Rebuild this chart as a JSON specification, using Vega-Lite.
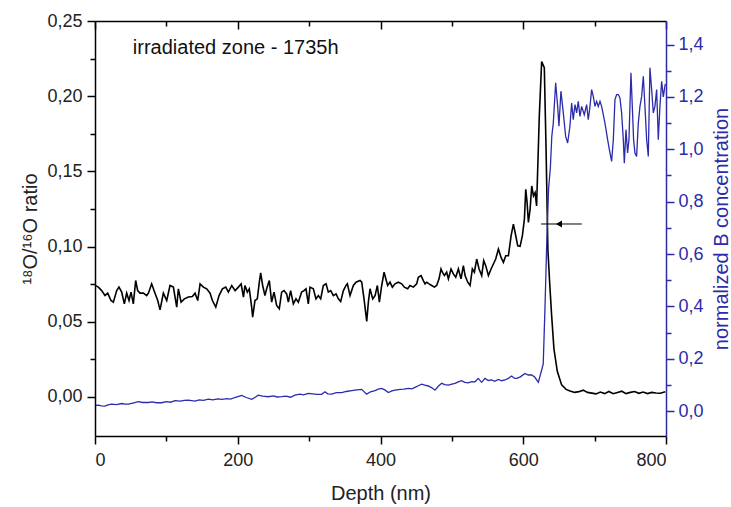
{
  "$schema": "https://vega.github.io/schema/vega-lite/v6.json",
  "width": 571,
  "height": 415,
  "autosize": {"type": "none"},
  "padding": {"left": 95, "top": 21, "right": 65, "bottom": 71},
  "background": "white",
  "config": {
    "view": {"stroke": null},
    "font": "Liberation Sans",
    "axis": {"grid": false, "labelFont": "Liberation Sans", "titleFont": "Liberation Sans", "labelFontSize": 18, "titleFontSize": 20, "titleFontWeight": "normal", "domainWidth": 1.5, "tickWidth": 1.5, "labelColor": "#222", "titleColor": "#222", "domainColor": "#000", "tickColor": "#000"}
  },
  "datasets": {
    "ratio": [
      {"depth": 1, "v": 0.074}, {"depth": 4.7, "v": 0.073}, {"depth": 9.3, "v": 0.0707}, {"depth": 14, "v": 0.0674}, {"depth": 17.8, "v": 0.069}, {"depth": 22.4, "v": 0.0641}, {"depth": 25.7, "v": 0.063}, {"depth": 30.4, "v": 0.0707}, {"depth": 33.6, "v": 0.073}, {"depth": 37.4, "v": 0.0697}, {"depth": 41.1, "v": 0.0619}, {"depth": 44.4, "v": 0.069}, {"depth": 47.7, "v": 0.0641}, {"depth": 50.5, "v": 0.0697}, {"depth": 53.7, "v": 0.0619}, {"depth": 57, "v": 0.0774}, {"depth": 59.8, "v": 0.0707}, {"depth": 63, "v": 0.069}, {"depth": 67.8, "v": 0.069}, {"depth": 72.4, "v": 0.0674}, {"depth": 74.8, "v": 0.069}, {"depth": 79.4, "v": 0.0752}, {"depth": 84.1, "v": 0.069}, {"depth": 87.9, "v": 0.0641}, {"depth": 91.1, "v": 0.0579}, {"depth": 95.8, "v": 0.069}, {"depth": 100.5, "v": 0.0641}, {"depth": 105.1, "v": 0.0741}, {"depth": 109.8, "v": 0.073}, {"depth": 114.5, "v": 0.0597}, {"depth": 116.8, "v": 0.0719}, {"depth": 120.6, "v": 0.063}, {"depth": 125.2, "v": 0.0652}, {"depth": 130.8, "v": 0.0664}, {"depth": 136.4, "v": 0.0668}, {"depth": 140.2, "v": 0.069}, {"depth": 143.9, "v": 0.0641}, {"depth": 147.2, "v": 0.0752}, {"depth": 151.9, "v": 0.073}, {"depth": 156.5, "v": 0.0719}, {"depth": 161.2, "v": 0.069}, {"depth": 164.5, "v": 0.0641}, {"depth": 169.2, "v": 0.0597}, {"depth": 173.8, "v": 0.0674}, {"depth": 178.5, "v": 0.0719}, {"depth": 183.2, "v": 0.073}, {"depth": 186.9, "v": 0.0697}, {"depth": 191.6, "v": 0.0741}, {"depth": 196.3, "v": 0.0707}, {"depth": 200.9, "v": 0.073}, {"depth": 204.7, "v": 0.0752}, {"depth": 208, "v": 0.0664},
      {"depth": 210.1, "v": 0.0741}, {"depth": 213.4, "v": 0.0697}, {"depth": 216.2, "v": 0.0719}, {"depth": 219.5, "v": 0.0597}, {"depth": 220.9, "v": 0.0531}, {"depth": 224.1, "v": 0.0641}, {"depth": 227.4, "v": 0.0652}, {"depth": 230.2, "v": 0.0763}, {"depth": 232.1, "v": 0.0825}, {"depth": 234.9, "v": 0.0741}, {"depth": 238.1, "v": 0.0674}, {"depth": 240.5, "v": 0.0719}, {"depth": 244.2, "v": 0.0774}, {"depth": 247.5, "v": 0.063}, {"depth": 250.8, "v": 0.0697}, {"depth": 254.5, "v": 0.0608}, {"depth": 258.2, "v": 0.0586}, {"depth": 261.5, "v": 0.0697}, {"depth": 264.8, "v": 0.0707}, {"depth": 268.5, "v": 0.0685}, {"depth": 270.9, "v": 0.063}, {"depth": 274.1, "v": 0.0707}, {"depth": 277.9, "v": 0.0619}, {"depth": 281.6, "v": 0.0652}, {"depth": 284.9, "v": 0.063}, {"depth": 289.5, "v": 0.0697}, {"depth": 292.8, "v": 0.0707}, {"depth": 295.6, "v": 0.0719}, {"depth": 298.9, "v": 0.0619}, {"depth": 301.2, "v": 0.073}, {"depth": 305.9, "v": 0.0719}, {"depth": 309.6, "v": 0.0652}, {"depth": 312.9, "v": 0.0674}, {"depth": 316.2, "v": 0.0652}, {"depth": 319.9, "v": 0.0741}, {"depth": 323.7, "v": 0.0752}, {"depth": 326.9, "v": 0.0697}, {"depth": 330.2, "v": 0.0707}, {"depth": 334, "v": 0.0674}, {"depth": 337.7, "v": 0.0685}, {"depth": 341, "v": 0.0652}, {"depth": 344.2, "v": 0.0634}, {"depth": 348, "v": 0.0707}, {"depth": 351.7, "v": 0.0741}, {"depth": 353.6, "v": 0.0752}, {"depth": 357.3, "v": 0.0674}, {"depth": 362, "v": 0.0741}, {"depth": 365.7, "v": 0.0763}, {"depth": 371.3, "v": 0.0774}, {"depth": 373.7, "v": 0.0763}, {"depth": 376.9, "v": 0.0652}, {"depth": 380.7, "v": 0.0502}, {"depth": 383, "v": 0.063}, {"depth": 385.3, "v": 0.0719}, {"depth": 389.1, "v": 0.0652}, {"depth": 392.4, "v": 0.0674}, {"depth": 395.6, "v": 0.0741}, {"depth": 398.4, "v": 0.063}, {"depth": 401.7, "v": 0.0741}, {"depth": 405, "v": 0.0829},
      {"depth": 410, "v": 0.0741}, {"depth": 413.3, "v": 0.0763}, {"depth": 416.6, "v": 0.073}, {"depth": 420.3, "v": 0.0752}, {"depth": 425, "v": 0.0763}, {"depth": 429.7, "v": 0.0752}, {"depth": 433.4, "v": 0.073}, {"depth": 438.1, "v": 0.0719}, {"depth": 441.3, "v": 0.0741}, {"depth": 446, "v": 0.073}, {"depth": 450.7, "v": 0.0752}, {"depth": 453, "v": 0.0796}, {"depth": 456.8, "v": 0.0807}, {"depth": 460, "v": 0.0774}, {"depth": 462.4, "v": 0.0752}, {"depth": 464.7, "v": 0.0763}, {"depth": 468, "v": 0.0752}, {"depth": 471.7, "v": 0.0741}, {"depth": 475.5, "v": 0.073}, {"depth": 478.7, "v": 0.0741}, {"depth": 482, "v": 0.0785}, {"depth": 484.8, "v": 0.0851}, {"depth": 486.7, "v": 0.0829}, {"depth": 489.5, "v": 0.0807}, {"depth": 492.7, "v": 0.0829}, {"depth": 495.1, "v": 0.0785}, {"depth": 498.8, "v": 0.0851}, {"depth": 502.1, "v": 0.0818}, {"depth": 505.4, "v": 0.0796}, {"depth": 509.1, "v": 0.0851}, {"depth": 512.8, "v": 0.0785}, {"depth": 516.1, "v": 0.0873}, {"depth": 518.5, "v": 0.0807}, {"depth": 522.2, "v": 0.0763}, {"depth": 525.5, "v": 0.0741}, {"depth": 528.7, "v": 0.0851}, {"depth": 531.5, "v": 0.0829}, {"depth": 534.8, "v": 0.0917}, {"depth": 538.1, "v": 0.0851}, {"depth": 541.8, "v": 0.0807}, {"depth": 544.6, "v": 0.0906}, {"depth": 547.4, "v": 0.0873}, {"depth": 551.2, "v": 0.0807}, {"depth": 554.9, "v": 0.0851}, {"depth": 558.2, "v": 0.0884}, {"depth": 561.4, "v": 0.0917}, {"depth": 565.2, "v": 0.0983}, {"depth": 568.9, "v": 0.0928}, {"depth": 572.2, "v": 0.0895}, {"depth": 575.5, "v": 0.0939}, {"depth": 579.2, "v": 0.0939}, {"depth": 583, "v": 0.1072}, {"depth": 586.2, "v": 0.1149}, {"depth": 589.5, "v": 0.1072}, {"depth": 592.3, "v": 0.1005}, {"depth": 595.6, "v": 0.1001}, {"depth": 598.8, "v": 0.1072}, {"depth": 601.6, "v": 0.1182}, {"depth": 603.5, "v": 0.1381}, {"depth": 605.4, "v": 0.1293}, {"depth": 607.2, "v": 0.116}, {"depth": 609.6, "v": 0.1248}, {"depth": 611.9, "v": 0.1403}, {"depth": 614.3, "v": 0.1337}, {"depth": 616.6, "v": 0.1359}, {"depth": 618.7, "v": 0.127}, {"depth": 622.5, "v": 0.187}, {"depth": 625.8, "v": 0.223}, {"depth": 629.5, "v": 0.219}, {"depth": 632, "v": 0.164}, {"depth": 634.5, "v": 0.098}, {"depth": 637, "v": 0.076}, {"depth": 639.8, "v": 0.054}, {"depth": 643, "v": 0.032}, {"depth": 647.7, "v": 0.017}, {"depth": 653.8, "v": 0.008}, {"depth": 660, "v": 0.005}, {"depth": 665.5, "v": 0.004}, {"depth": 672, "v": 0.003}, {"depth": 678, "v": 0.0035}, {"depth": 684, "v": 0.0045}, {"depth": 690, "v": 0.003}, {"depth": 696, "v": 0.0025}, {"depth": 702, "v": 0.002}, {"depth": 708, "v": 0.0032}, {"depth": 714, "v": 0.0022}, {"depth": 720, "v": 0.0036}, {"depth": 726, "v": 0.0021}, {"depth": 732, "v": 0.003}, {"depth": 738, "v": 0.0038}, {"depth": 744, "v": 0.0022}, {"depth": 750, "v": 0.003}, {"depth": 756, "v": 0.0036}, {"depth": 762, "v": 0.0024}, {"depth": 768, "v": 0.0032}, {"depth": 774, "v": 0.0022}, {"depth": 780, "v": 0.003}, {"depth": 786, "v": 0.0026}, {"depth": 792, "v": 0.0024}, {"depth": 799, "v": 0.0035}
    ],
    "boron": [
      {"depth": 1, "c": 0.022}, {"depth": 4.7, "c": 0.023}, {"depth": 9, "c": 0.02}, {"depth": 14, "c": 0.019}, {"depth": 18, "c": 0.024}, {"depth": 23.3, "c": 0.027}, {"depth": 30, "c": 0.025}, {"depth": 37.4, "c": 0.029}, {"depth": 42, "c": 0.027}, {"depth": 46.7, "c": 0.027}, {"depth": 53, "c": 0.031}, {"depth": 60.7, "c": 0.036}, {"depth": 67, "c": 0.033}, {"depth": 74.7, "c": 0.033}, {"depth": 80, "c": 0.035}, {"depth": 86, "c": 0.032}, {"depth": 93.4, "c": 0.032}, {"depth": 100, "c": 0.036}, {"depth": 106, "c": 0.034}, {"depth": 112, "c": 0.04}, {"depth": 120, "c": 0.038}, {"depth": 125, "c": 0.041}, {"depth": 130.8, "c": 0.042}, {"depth": 140, "c": 0.038}, {"depth": 146, "c": 0.043}, {"depth": 152, "c": 0.041}, {"depth": 158.8, "c": 0.046}, {"depth": 165, "c": 0.043}, {"depth": 172, "c": 0.047}, {"depth": 177.5, "c": 0.045}, {"depth": 185, "c": 0.048}, {"depth": 190, "c": 0.046}, {"depth": 196, "c": 0.052}, {"depth": 205.5, "c": 0.06}, {"depth": 212, "c": 0.052}, {"depth": 219.5, "c": 0.045}, {"depth": 224, "c": 0.052}, {"depth": 228.8, "c": 0.061}, {"depth": 235, "c": 0.057}, {"depth": 242.8, "c": 0.055}, {"depth": 250, "c": 0.058}, {"depth": 255, "c": 0.054}, {"depth": 261.5, "c": 0.055}, {"depth": 268, "c": 0.057}, {"depth": 274, "c": 0.053}, {"depth": 280, "c": 0.061}, {"depth": 287, "c": 0.065}, {"depth": 292, "c": 0.062}, {"depth": 299, "c": 0.068}, {"depth": 305, "c": 0.066}, {"depth": 311, "c": 0.064}, {"depth": 317.6, "c": 0.064}, {"depth": 322.2, "c": 0.074}, {"depth": 326, "c": 0.066}, {"depth": 331.6, "c": 0.065}, {"depth": 338, "c": 0.071}, {"depth": 345.6, "c": 0.071}, {"depth": 352, "c": 0.075}, {"depth": 359.6, "c": 0.078}, {"depth": 367, "c": 0.081}, {"depth": 373.6, "c": 0.083}, {"depth": 380.6, "c": 0.065}, {"depth": 386, "c": 0.074}, {"depth": 392.3, "c": 0.078}, {"depth": 397, "c": 0.084}, {"depth": 401.6, "c": 0.087}, {"depth": 406, "c": 0.081}, {"depth": 411, "c": 0.071}, {"depth": 416, "c": 0.077}, {"depth": 420.3, "c": 0.08}, {"depth": 428, "c": 0.083}, {"depth": 433, "c": 0.084}, {"depth": 439, "c": 0.087}, {"depth": 444, "c": 0.085}, {"depth": 448.3, "c": 0.091}, {"depth": 453, "c": 0.097}, {"depth": 457.7, "c": 0.103}, {"depth": 462, "c": 0.099}, {"depth": 467, "c": 0.096}, {"depth": 472, "c": 0.089}, {"depth": 476.3, "c": 0.08}, {"depth": 481, "c": 0.095}, {"depth": 485.7, "c": 0.106}, {"depth": 490, "c": 0.101}, {"depth": 495, "c": 0.099}, {"depth": 500, "c": 0.103}, {"depth": 504.4, "c": 0.106}, {"depth": 509, "c": 0.112}, {"depth": 513.7, "c": 0.116}, {"depth": 518, "c": 0.11}, {"depth": 523, "c": 0.108}, {"depth": 528, "c": 0.113}, {"depth": 532.4, "c": 0.112}, {"depth": 537, "c": 0.125}, {"depth": 541.7, "c": 0.11}, {"depth": 546.4, "c": 0.125}, {"depth": 551, "c": 0.117}, {"depth": 555.7, "c": 0.119}, {"depth": 560, "c": 0.114}, {"depth": 565, "c": 0.121}, {"depth": 570, "c": 0.116}, {"depth": 574.4, "c": 0.119}, {"depth": 579, "c": 0.125}, {"depth": 583.8, "c": 0.134}, {"depth": 588, "c": 0.125}, {"depth": 590.8, "c": 0.125}, {"depth": 596, "c": 0.131}, {"depth": 602.4, "c": 0.144}, {"depth": 607, "c": 0.138}, {"depth": 611.8, "c": 0.138}, {"depth": 616, "c": 0.13}, {"depth": 621.1, "c": 0.11}, {"depth": 625.8, "c": 0.157}, {"depth": 628, "c": 0.18}, {"depth": 630.5, "c": 0.4}, {"depth": 633, "c": 0.65}, {"depth": 635.5, "c": 0.85}, {"depth": 638, "c": 0.93}, {"depth": 640, "c": 1.05}, {"depth": 642.1, "c": 1.1}, {"depth": 645.4, "c": 1.254}, {"depth": 648.2, "c": 1.164}, {"depth": 650, "c": 1.088}, {"depth": 652.8, "c": 1.222}, {"depth": 656.1, "c": 1.139}, {"depth": 659.4, "c": 1.049}, {"depth": 662.2, "c": 1.024}, {"depth": 665.4, "c": 1.088}, {"depth": 667.8, "c": 1.177}, {"depth": 670.1, "c": 1.113}, {"depth": 672.5, "c": 1.171}, {"depth": 674.8, "c": 1.139}, {"depth": 677.1, "c": 1.183}, {"depth": 679.5, "c": 1.126}, {"depth": 681.8, "c": 1.164}, {"depth": 685.5, "c": 1.132}, {"depth": 688.8, "c": 1.171}, {"depth": 691.1, "c": 1.113}, {"depth": 693.5, "c": 1.164}, {"depth": 695.8, "c": 1.228}, {"depth": 698.1, "c": 1.202}, {"depth": 700.5, "c": 1.164}, {"depth": 702.8, "c": 1.183}, {"depth": 705.1, "c": 1.164}, {"depth": 707.5, "c": 1.183}, {"depth": 709.8, "c": 1.164}, {"depth": 714.5, "c": 1.1}, {"depth": 718.2, "c": 1.037}, {"depth": 721.5, "c": 0.986}, {"depth": 723.8, "c": 0.954}, {"depth": 726.2, "c": 1.037}, {"depth": 728.5, "c": 1.19}, {"depth": 730.8, "c": 1.209}, {"depth": 733.2, "c": 1.209}, {"depth": 735.5, "c": 1.196}, {"depth": 737.8, "c": 1.139}, {"depth": 740.2, "c": 1.037}, {"depth": 741.6, "c": 0.947}, {"depth": 743.9, "c": 1.075}, {"depth": 746.2, "c": 0.986}, {"depth": 748.1, "c": 1.037}, {"depth": 750.9, "c": 1.292}, {"depth": 752.8, "c": 1.164}, {"depth": 754.6, "c": 1.037}, {"depth": 756.5, "c": 0.986}, {"depth": 758.8, "c": 0.973}, {"depth": 761.2, "c": 1.1}, {"depth": 763.5, "c": 1.164}, {"depth": 765.9, "c": 1.202}, {"depth": 768.2, "c": 1.279}, {"depth": 770.5, "c": 1.164}, {"depth": 772.9, "c": 1.037}, {"depth": 775.2, "c": 0.973}, {"depth": 777.5, "c": 1.311}, {"depth": 779.9, "c": 1.228}, {"depth": 782.2, "c": 1.139}, {"depth": 784.5, "c": 1.164}, {"depth": 786.9, "c": 1.228}, {"depth": 789.2, "c": 1.037}, {"depth": 791.5, "c": 1.164}, {"depth": 793.9, "c": 1.26}, {"depth": 796.2, "c": 1.2}, {"depth": 799, "c": 1.25}
    ],
    "arrow": [{"x1": 625, "x2": 682, "xh": 650, "y": 0.115}],
    "label": [{"x": 53, "y": 0.228, "t": "irradiated zone - 1735h"}]
  },
  "layer": [
    {
      "data": {"name": "ratio"},
      "mark": {"type": "line", "color": "#000000", "strokeWidth": 1.6},
      "encoding": {
        "x": {"field": "depth", "type": "quantitative", "scale": {"domain": [0, 800], "nice": false, "zero": false},
          "axis": {"orient": "bottom", "title": "Depth (nm)", "values": [0, 100, 200, 300, 400, 500, 600, 700, 800],
            "labelExpr": "datum.value % 200 == 0 ? datum.label : ''",
            "tickSize": {"condition": {"test": "datum.value % 200 == 0", "value": 8}, "value": 5},
            "labelPadding": 7, "titlePadding": 14}},
        "y": {"field": "v", "type": "quantitative", "scale": {"domain": [-0.026, 0.25], "nice": false, "zero": false},
          "axis": {"orient": "left", "title": "¹⁸O/¹⁶O ratio", "values": [0, 0.025, 0.05, 0.075, 0.1, 0.125, 0.15, 0.175, 0.2, 0.225, 0.25],
            "labelExpr": "round(datum.value*1000) % 50 == 0 ? replace(format(datum.value, '.2f'), '.', ',') : ''",
            "tickSize": {"condition": {"test": "round(datum.value*1000) % 50 == 0", "value": 8}, "value": 5},
            "labelPadding": 5, "titlePadding": 6}}
      }
    },
    {
      "data": {"name": "boron"},
      "mark": {"type": "line", "color": "#2b2bab", "strokeWidth": 1.3},
      "encoding": {
        "x": {"field": "depth", "type": "quantitative", "scale": {"domain": [0, 800], "nice": false, "zero": false},
          "axis": {"orient": "top", "title": null, "values": [0, 100, 200, 300, 400, 500, 600, 700, 800], "labels": false,
            "tickSize": {"condition": {"test": "datum.value % 200 == 0", "value": -8}, "value": -5}}},
        "y": {"field": "c", "type": "quantitative", "scale": {"domain": [-0.095, 1.49], "nice": false, "zero": false},
          "axis": {"orient": "right", "title": "normalized B concentration", "titleAngle": 270, "titleBaseline": "top", "values": [0, 0.1, 0.2, 0.3, 0.4, 0.5, 0.6, 0.7, 0.8, 0.9, 1.0, 1.1, 1.2, 1.3, 1.4],
            "labelExpr": "round(datum.value*10) % 2 == 0 ? replace(format(datum.value, '.1f'), '.', ',') : ''",
            "tickSize": {"condition": {"test": "round(datum.value*10) % 2 == 0", "value": 8}, "value": 5},
            "domainColor": "#2b2bab", "tickColor": "#2b2bab", "labelColor": "#2b2bab", "titleColor": "#2b2bab",
            "labelPadding": 4, "titlePadding": 8}}
      }
    },
    {
      "data": {"name": "arrow"},
      "mark": {"type": "rule", "color": "#000000", "strokeWidth": 1},
      "encoding": {
        "x": {"field": "x1", "type": "quantitative", "scale": {"domain": [0, 800], "nice": false}, "axis": null},
        "x2": {"field": "x2"},
        "y": {"field": "y", "type": "quantitative", "scale": {"domain": [-0.026, 0.25], "nice": false, "zero": false}, "axis": null}
      }
    },
    {
      "data": {"name": "arrow"},
      "mark": {"type": "point", "shape": "triangle-left", "filled": true, "color": "#000000", "opacity": 1, "size": 50},
      "encoding": {
        "x": {"field": "xh", "type": "quantitative", "scale": {"domain": [0, 800], "nice": false}, "axis": null},
        "y": {"field": "y", "type": "quantitative", "scale": {"domain": [-0.026, 0.25], "nice": false, "zero": false}, "axis": null}
      }
    },
    {
      "data": {"name": "label"},
      "mark": {"type": "text", "align": "left", "baseline": "alphabetic", "fontSize": 20, "font": "Liberation Sans", "color": "#111"},
      "encoding": {
        "x": {"field": "x", "type": "quantitative", "scale": {"domain": [0, 800], "nice": false}, "axis": null},
        "y": {"field": "y", "type": "quantitative", "scale": {"domain": [-0.026, 0.25], "nice": false, "zero": false}, "axis": null},
        "text": {"field": "t"}
      }
    }
  ],
  "resolve": {"scale": {"y": "independent"}, "axis": {"x": "independent", "y": "independent"}}
}
